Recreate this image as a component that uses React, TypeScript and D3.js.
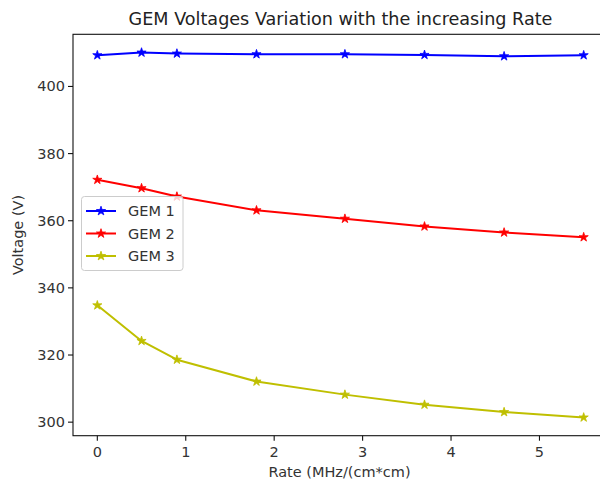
import React from "react";
import * as d3 from "d3";

const rates = [0, 0.5, 0.9, 1.8, 2.8, 3.7, 4.6, 5.5];
const gem1 = [409.3, 410.1, 409.8, 409.6, 409.6, 409.4, 409.0, 409.3];
const gem2 = [372.2, 369.7, 367.2, 363.1, 360.6, 358.3, 356.5, 355.1];
const gem3 = [334.8, 324.2, 318.6, 312.1, 308.2, 305.2, 303.0, 301.4];
const seriesNames = ["GEM 1", "GEM 2", "GEM 3"];
const seriesColors = ["#0000ff", "#ff0000", "#bfbf00"];
const xTicks = [0, 1, 2, 3, 4, 5];
const yTicks = [300, 320, 340, 360, 380, 400];

const W = 600, H = 482;
const L = 73, R = 608, T = 34.3, B = 435.7;
const FONT = "DejaVu Sans, sans-serif";

export default function App() {
  const all = [gem1, gem2, gem3];
  const xMin = d3.min(rates)!, xMax = d3.max(rates)!;
  const xPad = (xMax - xMin) * 0.05;
  const yMin = d3.min(all.flat())!, yMax = d3.max(all.flat())!;
  const yPad = (yMax - yMin) * 0.05;
  const x = d3.scaleLinear().domain([xMin - xPad, xMax + xPad]).range([L, R]);
  const y = d3.scaleLinear().domain([yMin - yPad, yMax + yPad]).range([B, T]);
  const line = d3.line<number>().x((_, i) => x(rates[i])).y((v) => y(v));
  const star = d3.symbol().type(d3.symbolStar).size(26)()!;
  const tickColor = "#333";

  return (
    <svg width={W} height={H} style={{ position: "absolute", left: 0, top: 0, background: "#fff" }} fontFamily={FONT}>
      <rect x={0} y={0} width={W} height={H} fill="#fff" />
      <text x={(L + R) / 2} y={25} textAnchor="middle" fontSize={17.6} fill="#222">
        GEM Voltages Variation with the increasing Rate
      </text>
      {all.map((s, k) => (
        <g key={k}>
          <path d={line(s)!} fill="none" stroke={seriesColors[k]} strokeWidth={2} strokeLinejoin="round" />
          {s.map((v, i) => (
            <path key={i} d={star} transform={`translate(${x(rates[i])},${y(v)})`} fill={seriesColors[k]} stroke={seriesColors[k]} strokeWidth={0.8} />
          ))}
        </g>
      ))}
      <rect x={L} y={T} width={R - L} height={B - T} fill="none" stroke="#111" strokeWidth={1.1} />
      {xTicks.map((t) => (
        <g key={t}>
          <line x1={x(t)} x2={x(t)} y1={B} y2={B + 5} stroke="#111" strokeWidth={1.1} />
          <text x={x(t)} y={B + 21} textAnchor="middle" fontSize={14.5} fill={tickColor}>{t}</text>
        </g>
      ))}
      {yTicks.map((t) => (
        <g key={t}>
          <line x1={L - 5} x2={L} y1={y(t)} y2={y(t)} stroke="#111" strokeWidth={1.1} />
          <text x={L - 8} y={y(t) + 5} textAnchor="end" fontSize={14.5} fill={tickColor}>{t}</text>
        </g>
      ))}
      <text x={(L + R) / 2 - 1} y={477} textAnchor="middle" fontSize={14.5} fill={tickColor}>Rate (MHz/(cm*cm)</text>
      <text transform={`translate(23,${(T + B) / 2}) rotate(-90)`} textAnchor="middle" fontSize={14.5} fill={tickColor}>Voltage (V)</text>
      <g>
        <rect x={81.5} y={196.5} width={101.5} height={74} rx={3} fill="#fff" fillOpacity={0.8} stroke="#ccc" strokeWidth={1} />
        {seriesNames.map((n, k) => {
          const yy = 211 + k * 22.5;
          return (
            <g key={n}>
              <line x1={86} x2={116} y1={yy} y2={yy} stroke={seriesColors[k]} strokeWidth={2} />
              <path d={star} transform={`translate(101,${yy})`} fill={seriesColors[k]} stroke={seriesColors[k]} strokeWidth={0.8} />
              <text x={128} y={yy + 5} fontSize={14.5} fill={tickColor}>{n}</text>
            </g>
          );
        })}
      </g>
    </svg>
  );
}
